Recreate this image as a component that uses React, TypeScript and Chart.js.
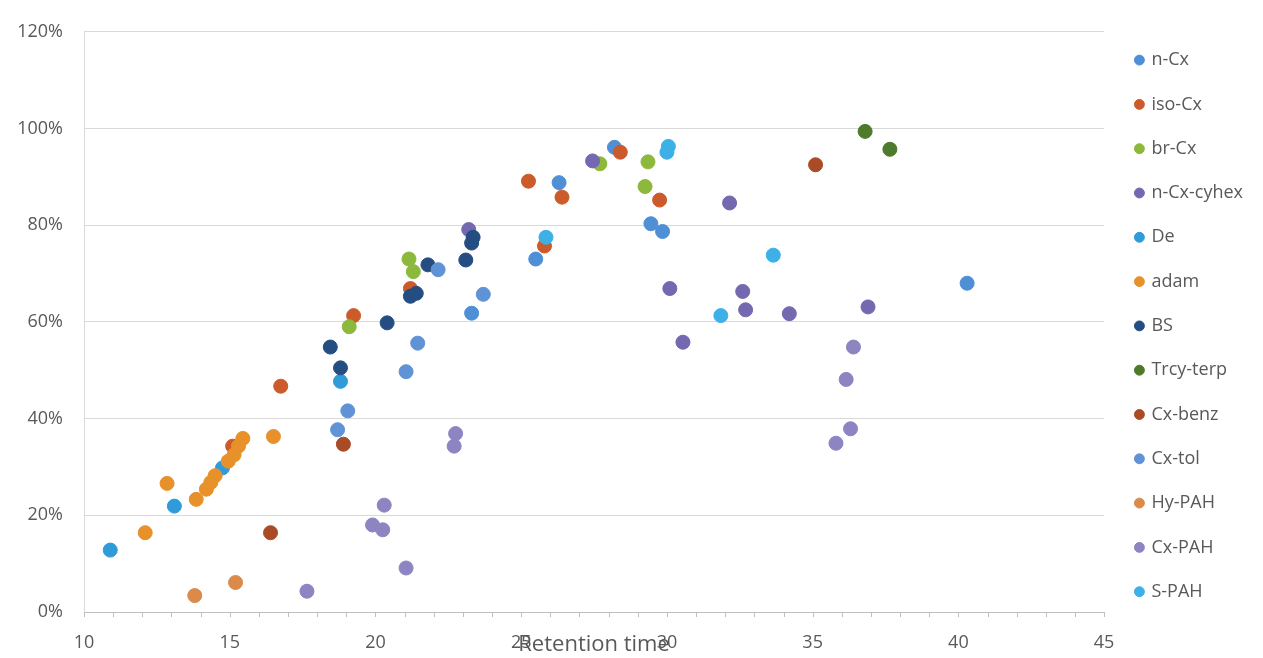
import React, { useEffect, useRef } from "react";
import { Chart, registerables } from "chart.js";

Chart.register(...registerables);

// Retention time (x) and recovery % (y) per compound class
const seriesNames = [
  "n-Cx", "iso-Cx", "br-Cx", "n-Cx-cyhex", "De", "adam", "BS",
  "Trcy-terp", "Cx-benz", "Cx-tol", "Hy-PAH", "Cx-PAH", "S-PAH",
];
const seriesColors = [
  "#4F8FD6", "#CC5B2C", "#8CB83C", "#7468B0", "#2F9BD9", "#E8912A", "#244E82",
  "#4E7A2B", "#A94B25", "#5F93D6", "#DB8A4A", "#8D84C2", "#3EB0E8",
];

const nCxRt = [23.3, 25.5, 26.3, 28.2, 29.45, 29.85, 40.3];
const nCxRec = [61.8, 73.0, 88.8, 96.1, 80.3, 78.7, 68.0];

const isoCxRt = [15.1, 16.75, 19.25, 21.2, 25.25, 25.8, 26.4, 28.4, 29.75];
const isoCxRec = [34.3, 46.7, 61.3, 66.9, 89.1, 75.7, 85.8, 95.1, 85.2];

const brCxRt = [19.1, 21.15, 21.3, 27.7, 29.25, 29.35];
const brCxRec = [59.0, 73.0, 70.4, 92.7, 88.0, 93.1];

const cyhexRt = [23.2, 27.45, 30.1, 30.55, 32.15, 32.6, 32.7, 34.2, 36.9];
const cyhexRec = [79.1, 93.3, 66.9, 55.8, 84.6, 66.3, 62.5, 61.7, 63.1];

const deRt = [10.9, 13.1, 14.75, 18.8];
const deRec = [12.8, 21.9, 29.8, 47.7];

const adamRt = [12.1, 12.85, 13.85, 14.2, 14.35, 14.5, 14.95, 15.15, 15.3, 15.45, 16.5];
const adamRec = [16.4, 26.6, 23.3, 25.4, 26.8, 28.2, 31.2, 32.5, 34.3, 35.9, 36.3];

const bsRt = [18.45, 18.8, 20.4, 21.2, 21.4, 21.8, 23.1, 23.3, 23.35];
const bsRec = [54.8, 50.5, 59.8, 65.3, 65.9, 71.8, 72.8, 76.3, 77.5];

const trcyRt = [36.8, 37.65];
const trcyRec = [99.4, 95.7];

const cxBenzRt = [16.4, 18.9, 35.1];
const cxBenzRec = [16.4, 34.7, 92.5];

const cxTolRt = [18.7, 19.05, 21.05, 21.45, 22.15, 23.7];
const cxTolRec = [37.7, 41.6, 49.7, 55.6, 70.8, 65.7];

const hyPahRt = [13.8, 15.2];
const hyPahRec = [3.4, 6.1];

const cxPahRt = [17.65, 19.9, 20.25, 20.3, 21.05, 22.7, 22.75, 35.8, 36.15, 36.3, 36.4];
const cxPahRec = [4.3, 18.0, 17.0, 22.1, 9.1, 34.3, 36.9, 34.9, 48.1, 37.9, 54.8];

const sPahRt = [25.85, 30.0, 30.05, 31.85, 33.65];
const sPahRec = [77.5, 95.1, 96.3, 61.3, 73.8];

const seriesRt = [nCxRt, isoCxRt, brCxRt, cyhexRt, deRt, adamRt, bsRt, trcyRt, cxBenzRt, cxTolRt, hyPahRt, cxPahRt, sPahRt];
const seriesRec = [nCxRec, isoCxRec, brCxRec, cyhexRec, deRec, adamRec, bsRec, trcyRec, cxBenzRec, cxTolRec, hyPahRec, cxPahRec, sPahRec];

const xTicksMin = 10;
const xTicksMax = 45;
const yTicksMax = 120;
const xTitle = "Retention time";

const FONT = "'Open Sans', sans-serif";
const TEXT = "#595959";

const extrasPlugin = {
  id: "extras",
  beforeDraw(chart: any) {
    const { ctx, width, height } = chart;
    ctx.save();
    ctx.fillStyle = "#ffffff";
    ctx.fillRect(0, 0, width, height);
    ctx.restore();
  },
  afterDraw(chart: any) {
    const { ctx, chartArea } = chart;
    const xs = chart.scales.x;
    ctx.save();
    ctx.strokeStyle = "#BFBFBF";
    ctx.lineWidth = 1;
    for (let v = xTicksMin; v <= xTicksMax; v++) {
      const px = Math.round(xs.getPixelForValue(v)) + 0.5;
      ctx.beginPath();
      ctx.moveTo(px, chartArea.bottom);
      ctx.lineTo(px, chartArea.bottom + 5);
      ctx.stroke();
    }
    ctx.fillStyle = TEXT;
    ctx.font = `22px ${FONT}`;
    ctx.textAlign = "center";
    ctx.textBaseline = "middle";
    ctx.fillText(xTitle, (chartArea.left + chartArea.right) / 2, 645);
    ctx.restore();
  },
};

export default function App() {
  const ref = useRef<HTMLCanvasElement | null>(null);
  useEffect(() => {
    if (!ref.current) return;
    const n = seriesNames.length;
    const datasets = seriesNames.map((name, i) => ({
      label: name,
      data: seriesRt[i].map((x, k) => ({ x, y: seriesRec[i][k] })),
      backgroundColor: seriesColors[i],
      borderColor: seriesColors[i],
      borderWidth: 1,
      pointRadius: 7,
      pointStyle: "circle",
      order: n - i,
    }));
    const chart = new Chart(ref.current, {
      type: "scatter",
      data: { datasets },
      plugins: [extrasPlugin],
      options: {
        responsive: false,
        animation: false,
        layout: { padding: { top: 20, right: 10, bottom: 0, left: 0 } },
        plugins: {
          tooltip: { enabled: false },
          legend: {
            position: "right",
            align: "start",
            title: { display: true, text: "", padding: 0, font: { size: 4 } },
            labels: {
              usePointStyle: true,
              boxWidth: 6,
              boxHeight: 7,
              padding: 26.3,
              color: TEXT,
              font: { family: FONT, size: 18 },
              sort: (a: any, b: any) => a.datasetIndex - b.datasetIndex,
            },
          },
        },
        scales: {
          x: {
            type: "linear",
            min: xTicksMin,
            max: xTicksMax,
            afterFit: (s: any) => { s.height = 46; },
            ticks: { stepSize: 5, color: TEXT, font: { family: FONT, size: 18 }, padding: 20, maxRotation: 0 },
            grid: { display: false, drawTicks: false },
            border: { display: true, color: "#BFBFBF", width: 1 },
          },
          y: {
            type: "linear",
            min: 0,
            max: yTicksMax,
            afterFit: (s: any) => { s.width = 84; },
            ticks: {
              stepSize: 20,
              color: TEXT,
              font: { family: FONT, size: 18 },
              padding: 21,
              callback: (v: any) => `${v}%`,
            },
            grid: { color: "#D9D9D9", drawTicks: false },
            border: { display: true, color: "#D9D9D9", width: 1 },
          },
          gap: {
            type: "linear",
            position: "right",
            display: true,
            afterFit: (s: any) => { s.width = 6; },
            ticks: { display: false },
            grid: { display: false, drawTicks: false },
            border: { display: false },
          },
        },
      },
    });
    return () => chart.destroy();
  }, []);
  return (
    <div style={{ position: "absolute", left: 0, top: 0, width: 1263, height: 658 }}>
      <canvas ref={ref} width={1263} height={658} />
    </div>
  );
}
